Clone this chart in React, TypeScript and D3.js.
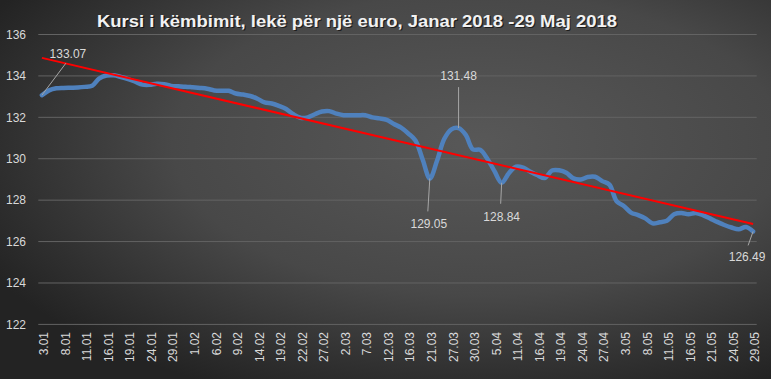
import React from "react";
import * as d3 from "d3";

const dates: string[] = [
  "3.01","4.01","5.01","8.01","9.01","10.01","11.01","12.01","15.01","16.01",
  "17.01","18.01","19.01","22.01","23.01","24.01","25.01","26.01","29.01","30.01",
  "31.01","1.02","2.02","5.02","6.02","7.02","8.02","9.02","12.02","13.02",
  "14.02","15.02","16.02","19.02","20.02","21.02","22.02","23.02","26.02","27.02",
  "28.02","1.03","2.03","5.03","6.03","7.03","8.03","9.03","12.03","13.03",
  "15.03","16.03","19.03","20.03","21.03","23.03","26.03","27.03","28.03","29.03",
  "30.03","3.04","4.04","5.04","6.04","10.04","11.04","12.04","13.04","16.04",
  "17.04","18.04","19.04","20.04","23.04","24.04","25.04","26.04","27.04","30.04",
  "2.05","3.05","4.05","7.05","8.05","9.05","10.05","11.05","14.05","15.05",
  "16.05","17.05","18.05","21.05","22.05","23.05","24.05","25.05","28.05","29.05",
];

const rates: number[] = [
  133.07,133.3,133.4,133.42,133.43,133.44,133.47,133.52,133.88,134.02,
  134.03,133.95,133.85,133.72,133.58,133.57,133.62,133.6,133.52,133.5,
  133.48,133.45,133.42,133.38,133.3,133.28,133.28,133.15,133.1,133.03,
  132.9,132.72,132.67,132.55,132.4,132.15,131.98,132.0,132.15,132.28,
  132.3,132.18,132.1,132.1,132.1,132.1,132.0,131.95,131.88,131.68,
  131.5,131.22,130.88,129.96,129.05,129.9,130.95,131.42,131.48,131.15,
  130.45,130.43,130.0,129.4,128.84,129.3,129.62,129.57,129.37,129.2,
  129.07,129.43,129.44,129.32,129.05,129.0,129.12,129.13,128.92,128.75,
  127.95,127.72,127.4,127.28,127.12,126.88,126.93,127.0,127.32,127.38,
  127.32,127.38,127.28,127.12,126.95,126.8,126.68,126.6,126.7,126.49,
];

const yTicks: number[] = [122, 124, 126, 128, 130, 132, 134, 136];
const annotatedIdx: number[] = [0, 54, 58, 64, 99];
const title = "Kursi i këmbimit, lekë për një euro, Janar 2018 -29 Maj 2018";

// label placement (styles): label centre offset and leader end offset relative to point
const annoStyle: Record<number, { lx: number; ly: number; ex: number; ey: number }> = {
  0: { lx: 26, ly: -41, ex: 24, ey: -32 },
  54: { lx: -1, ly: 45, ex: -2, ey: 33 },
  58: { lx: 0, ly: -52, ex: 0, ey: -41 },
  64: { lx: 0, ly: 34, ex: -1, ey: 21 },
  99: { lx: -6, ly: 25, ex: -5, ey: 14 },
};

export default function App() {
  const W = 771, H = 379;
  const left = 38.3, right = 756.7, top = 34.5, bottom = 324.4;
  const x = d3.scaleBand<string>().domain(dates).range([left, right]);
  const bw = x.bandwidth();
  const px = (i: number) => (x(dates[i]) as number) + bw / 2;
  const y = d3.scaleLinear().domain([122, 136]).range([bottom, top]);

  const line = d3
    .line<number>()
    .x((_, i) => px(i))
    .y((d) => y(d))
    .curve(d3.curveCatmullRom.alpha(0.5));

  // linear least-squares trend
  const n = rates.length;
  const idx = d3.range(n);
  const mx = d3.mean(idx) as number;
  const my = d3.mean(rates) as number;
  const sxy = d3.sum(idx, (i) => (i - mx) * (rates[i] - my));
  const sxx = d3.sum(idx, (i) => (i - mx) * (i - mx));
  const slope = sxy / sxx;
  const icpt = my - slope * mx;
  const t0 = icpt, t1 = icpt + slope * (n - 1);

  const font = "'Liberation Sans', Arial, sans-serif";
  const txt = "#d9d9d9";

  return (
    <div style={{ position: "absolute", left: 0, top: 0 }}>
      <svg width={W} height={H} style={{ display: "block" }}>
        <defs>
          <radialGradient id="bg" cx="62%" cy="38%" r="72%">
            <stop offset="0%" stopColor="#585858" />
            <stop offset="55%" stopColor="#484848" />
            <stop offset="100%" stopColor="#232323" />
          </radialGradient>
        </defs>
        <rect x={0} y={0} width={W} height={H} fill="url(#bg)" />
        {yTicks.map((t) => (
          <g key={t}>
            <line x1={left} x2={right} y1={y(t)} y2={y(t)} stroke="#636363" strokeWidth={1} />
            <text x={26} y={y(t)} dy="0.35em" textAnchor="end" fill={txt} fontFamily={font} fontSize={12}>
              {t}
            </text>
          </g>
        ))}
        {dates.map((d, i) =>
          i % 3 === 0 ? (
            <text
              key={d}
              transform={`translate(${px(i) + 2},${332}) rotate(-90)`}
              textAnchor="end"
              dy="0.35em"
              fill={txt}
              fontFamily={font}
              fontSize={12}
            >
              {d}
            </text>
          ) : null
        )}
        <path
          d={line(rates) || ""}
          fill="none"
          stroke="#4f81bd"
          strokeWidth={4.5}
          strokeLinejoin="round"
          strokeLinecap="round"
        />
        <line x1={px(0)} x2={px(n - 1)} y1={y(t0)} y2={y(t1)} stroke="#ff0000" strokeWidth={2} />
        {annotatedIdx.map((i) => {
          const s = annoStyle[i];
          const cx = px(i), cy = y(rates[i]);
          return (
            <g key={i}>
              <line x1={cx} y1={cy} x2={cx + s.ex} y2={cy + s.ey} stroke="#a6a6a6" strokeWidth={1} />
              <text x={cx + s.lx} y={cy + s.ly} dy="0.35em" textAnchor="middle" fill={txt} fontFamily={font} fontSize={12}>
                {rates[i].toFixed(2)}
              </text>
            </g>
          );
        })}
        <text x={357} y={27} dx={1.2} dy={1.2} textAnchor="middle" fill="#000" opacity={0.6} fontFamily={font} fontWeight="bold" fontSize={16.5} textLength={520} lengthAdjust="spacingAndGlyphs">
          {title}
        </text>
        <text x={357} y={27} textAnchor="middle" fill="#f2f2f2" fontFamily={font} fontWeight="bold" fontSize={16.5} textLength={520} lengthAdjust="spacingAndGlyphs">
          {title}
        </text>
      </svg>
    </div>
  );
}
